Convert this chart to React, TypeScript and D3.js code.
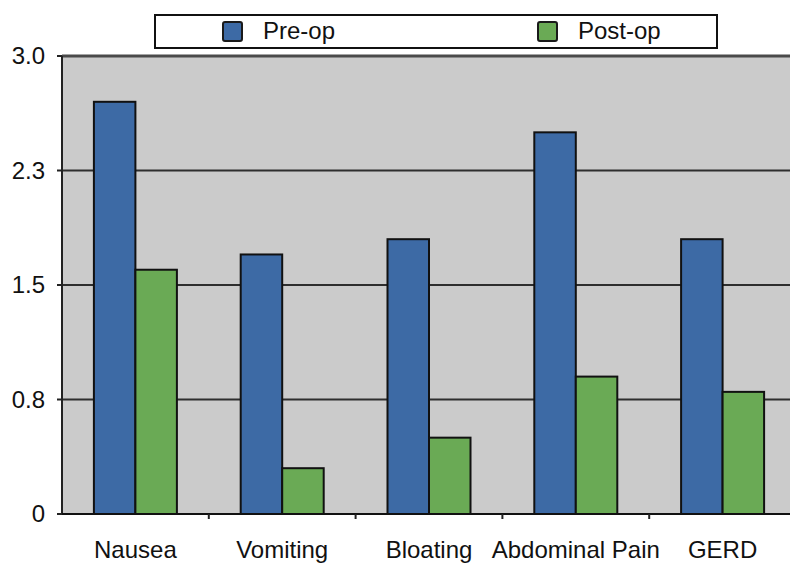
import React from "react";
import * as d3 from "d3";

const categories = ["Nausea", "Vomiting", "Bloating", "Abdominal Pain", "GERD"];
const seriesNames = ["Pre-op", "Post-op"];
const preOp = [2.7, 1.7, 1.8, 2.5, 1.8];
const postOp = [1.6, 0.3, 0.5, 0.9, 0.8];
const tickValues = [0, 0.75, 1.5, 2.25, 3.0];
const tickLabels = ["0", "0.8", "1.5", "2.3", "3.0"];

const W = 790;
const H = 563;
const margin = { left: 62, top: 56, right: -6, bottom: 49 };
const colors: Record<string, string> = { "Pre-op": "#3d6aa5", "Post-op": "#6aaa55" };
const font = "'Liberation Sans', Arial, Helvetica, sans-serif";

export default function App() {
  const x0 = d3
    .scaleBand<string>()
    .domain(categories)
    .range([margin.left, W - margin.right])
    .padding(0);
  const bw = x0.bandwidth();
  const groupW = 83;
  const x1 = d3
    .scaleBand<string>()
    .domain(seriesNames)
    .range([(bw - groupW) / 2, (bw + groupW) / 2])
    .padding(0);
  const y = d3.scaleLinear().domain([0, 3]).range([H - margin.bottom, margin.top]);

  const values: Record<string, number[]> = { "Pre-op": preOp, "Post-op": postOp };
  const plotRight = W - margin.right;

  return (
    <svg
      width={W}
      height={H}
      style={{ position: "absolute", left: 0, top: 0, background: "#fff" }}
      fontFamily={font}
    >
      {/* plot background */}
      <rect
        x={margin.left}
        y={margin.top}
        width={plotRight - margin.left}
        height={y(0) - margin.top}
        fill="#cbcbcb"
      />
      {/* gridlines */}
      {tickValues.slice(1, -1).map((t) => (
        <line
          key={t}
          x1={margin.left}
          x2={plotRight}
          y1={y(t)}
          y2={y(t)}
          stroke="#2e2e2e"
          strokeWidth={2}
        />
      ))}
      <line x1={margin.left} x2={plotRight} y1={y(3)} y2={y(3)} stroke="#4a4a4a" strokeWidth={3} />
      {/* bars */}
      {categories.map((c, i) =>
        seriesNames.map((s) => {
          const v = values[s][i];
          return (
            <rect
              key={c + s}
              x={(x0(c) ?? 0) + (x1(s) ?? 0)}
              y={y(v)}
              width={x1.bandwidth()}
              height={y(0) - y(v)}
              fill={colors[s]}
              stroke="#111"
              strokeWidth={2}
            />
          );
        })
      )}
      {/* axes */}
      <line x1={margin.left} x2={margin.left} y1={margin.top} y2={y(0)} stroke="#222" strokeWidth={2} />
      <line x1={margin.left - 5} x2={plotRight} y1={y(0)} y2={y(0)} stroke="#111" strokeWidth={2} />
      {tickValues.map((t, i) => (
        <g key={t}>
          <line x1={margin.left - 5} x2={margin.left} y1={y(t)} y2={y(t)} stroke="#222" strokeWidth={2} />
          <text
            x={margin.left - 17}
            y={y(t)}
            dy="0.35em"
            textAnchor="end"
            fontSize={24}
            fill="#111"
          >
            {tickLabels[i]}
          </text>
        </g>
      ))}
      {categories.map((c, i) => (
        <g key={c}>
          {i > 0 && (
            <line
              x1={x0(c) ?? 0}
              x2={x0(c) ?? 0}
              y1={y(0)}
              y2={y(0) + 5}
              stroke="#222"
              strokeWidth={2}
            />
          )}
          <text
            x={(x0(c) ?? 0) + bw / 2}
            y={558}
            textAnchor="middle"
            fontSize={24}
            fill="#111"
          >
            {c}
          </text>
        </g>
      ))}
      {/* legend */}
      <rect x={155} y={15} width={562} height={33} fill="#fff" stroke="#111" strokeWidth={2} />
      {seriesNames.map((s, i) => {
        const sx = i === 0 ? 223 : 538;
        return (
          <g key={s}>
            <rect x={sx} y={22} width={19} height={19} fill={colors[s]} stroke="#1a1a1a" strokeWidth={2} rx={2} />
            <text x={sx + 40} y={39} fontSize={24} fill="#111">
              {s}
            </text>
          </g>
        );
      })}
    </svg>
  );
}
